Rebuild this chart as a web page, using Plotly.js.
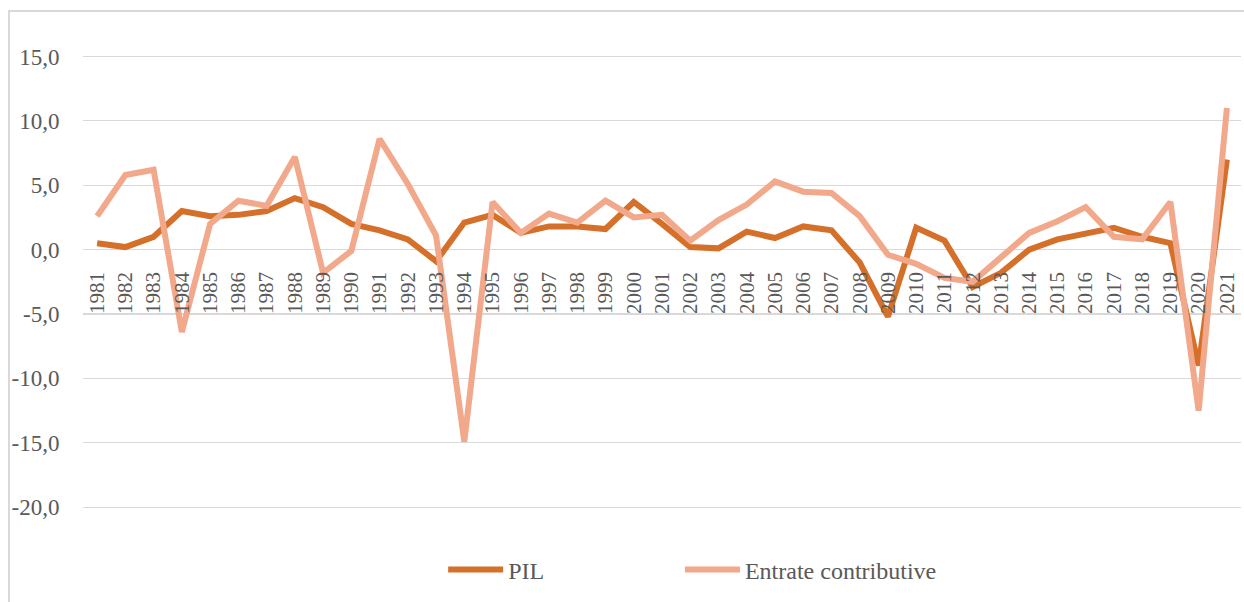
<!DOCTYPE html>
<html>
<head>
<meta charset="utf-8">
<script src="https://cdn.plot.ly/plotly-3.0.1.min.js"></script>
<style>
  html, body { margin: 0; padding: 0; background: #ffffff; }
  #frame { position: absolute; left: 8px; top: 10px; width: 1240px; height: 600px;
           border-left: 2px solid #d9d9d9; border-top: 2px solid #d9d9d9; box-sizing: border-box; }
  #chart { position: absolute; left: 0; top: 0; width: 1244px; height: 602px; }
</style>
</head>
<body>
<div id="frame"></div>
<div id="chart"></div>
<script>
const years = ["1981","1982","1983","1984","1985","1986","1987","1988","1989","1990",
               "1991","1992","1993","1994","1995","1996","1997","1998","1999","2000",
               "2001","2002","2003","2004","2005","2006","2007","2008","2009","2010",
               "2011","2012","2013","2014","2015","2016","2017","2018","2019","2020","2021"];

const pil = [0.5, 0.2, 1.0, 3.0, 2.6, 2.7, 3.0, 4.0, 3.3, 2.0,
             1.5, 0.8, -0.9, 2.1, 2.7, 1.3, 1.8, 1.8, 1.6, 3.7,
             2.0, 0.2, 0.1, 1.4, 0.9, 1.8, 1.5, -1.0, -5.2, 1.7,
             0.7, -2.9, -1.8, 0.0, 0.8, 1.3, 1.7, 1.0, 0.5, -9.0, 7.0];

const entrate = [2.6, 5.8, 6.2, -6.4, 2.0, 3.8, 3.4, 7.2, -1.8, -0.1,
                 8.6, 5.1, 1.1, -14.9, 3.7, 1.3, 2.8, 2.1, 3.8, 2.5,
                 2.7, 0.7, 2.3, 3.5, 5.3, 4.5, 4.4, 2.6, -0.4, -1.1,
                 -2.2, -2.5, -0.6, 1.3, 2.2, 3.3, 1.0, 0.8, 3.7, -12.5, 11.0];

const seriesNames = ["PIL", "Entrate contributive"];
const yTickVals = [-20, -15, -10, -5, 0, 5, 10, 15];
const yTickText = ["-20,0", "-15,0", "-10,0", "-5,0", "0,0", "5,0", "10,0", "15,0"];

const font = "Liberation Serif";
const grey = "#595959";

const yMin = -25.03, yMax = 17.83;
const zeroPos = (0 - yMin) / (yMax - yMin);

const traces = [
  { x: years, y: pil, name: seriesNames[0], type: "scatter", mode: "lines",
    line: { color: "#D5702B", width: 6 }, legend: "legend" },
  { x: years, y: entrate, name: seriesNames[1], type: "scatter", mode: "lines",
    line: { color: "#F2A88A", width: 6 }, legend: "legend2" }
];

const legendStyle = {
  orientation: "h",
  y: 0.004, yanchor: "middle",
  xanchor: "left",
  font: { family: font, color: grey, size: 24 },
  bgcolor: "rgba(0,0,0,0)",
  itemwidth: 55
};

const layout = {
  width: 1244, height: 602,
  margin: { l: 83, r: 3, t: 20, b: 30 },
  paper_bgcolor: "rgba(0,0,0,0)",
  plot_bgcolor: "rgba(0,0,0,0)",
  showlegend: true,
  font: { family: font, color: grey, size: 22 },
  xaxis: {
    type: "category",
    range: [-0.5, 40.5],
    anchor: "free",
    position: zeroPos,
    showgrid: false,
    showline: false,
    zeroline: false,
    tickangle: -90,
    ticks: "outside",
    ticklen: 13,
    tickcolor: "rgba(0,0,0,0)",
    tickfont: { family: font, color: grey, size: 21 }
  },
  yaxis: {
    range: [yMin, yMax],
    tickmode: "array",
    tickvals: yTickVals,
    ticktext: yTickText,
    showgrid: true,
    gridcolor: "#d9d9d9",
    gridwidth: 1.3,
    zeroline: false,
    showline: false,
    ticks: "outside",
    ticklen: 18,
    tickcolor: "rgba(0,0,0,0)",
    tickfont: { family: font, color: grey, size: 23 }
  },
  legend: Object.assign({}, legendStyle, { x: 0.311 }),
  legend2: Object.assign({}, legendStyle, { x: 0.5155 })
};

Plotly.newPlot("chart", traces, layout, { displayModeBar: false, staticPlot: true });
</script>
</body>
</html>
